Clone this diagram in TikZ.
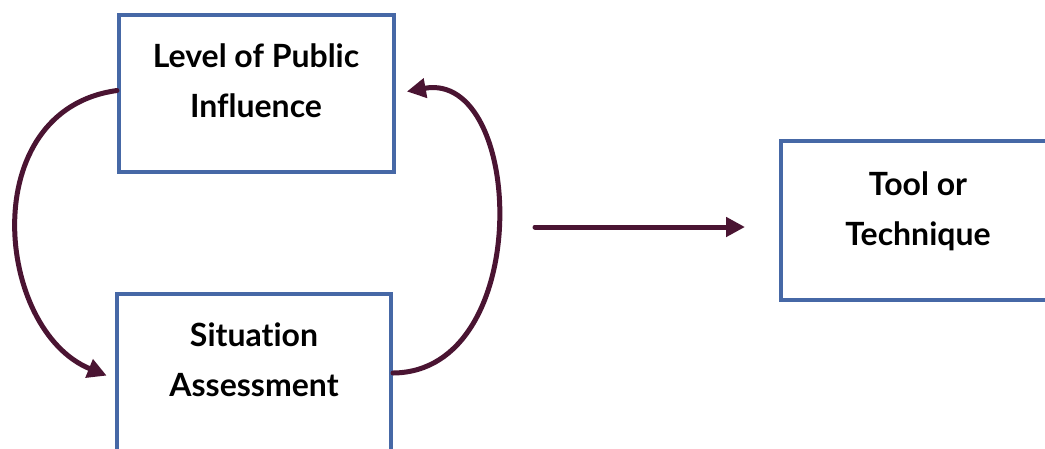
\documentclass[tikz,border=0pt]{standalone}
\usepackage{fontspec}
\setmainfont{Lato}[Ligatures=NoCommon]
\usetikzlibrary{arrows.meta}
\definecolor{boxblue}{RGB}{70,104,166}
\definecolor{arrowc}{RGB}{74,20,50}
\tikzset{
  box/.style={draw=boxblue, line width=4pt, fill=white, rectangle, inner sep=0pt},
  lbl/.style={align=center, font=\fontsize{32}{50}\selectfont\bfseries, text=black, inner sep=0pt},
  conn/.style={draw=arrowc, line width=5pt, line cap=round, -{Triangle[length=19pt,width=19pt]}}
}
\begin{document}
\begin{tikzpicture}[x=1pt,y=-1pt]
\useasboundingbox (0,0) rectangle (1045,448);
\fill[white] (0,0) rectangle (1045,448);
\node[box, minimum width=275pt, minimum height=157pt] (top) at (256.5,93.5) {};
\node[box, minimum width=274pt, minimum height=170pt] (bot) at (254,379) {};
\node[box, minimum width=280pt, minimum height=159pt] (tool) at (921,220.5) {};
\node[lbl, anchor=base] (ttop) at (256,117) {Level of Public\\Influence};
\node[lbl, anchor=base] (tbot) at (254,396) {Situat\kern0pt ion\\Assessment};
\node[lbl, anchor=base] (ttool) at (918,245) {Tool or\\Technique};
\coordinate (hs) at (535,227);
\coordinate (he) at (745,227);
\draw[conn, shorten >=9pt] ([yshift=3pt]top.west) .. controls (-25,110) and (-5,330) .. (bot.west);
\draw[conn, shorten >=11pt] ([yshift=6pt]bot.east) .. controls (535,372) and (525,70) .. (top.east);
\draw[conn] (hs) -- (he);
\end{tikzpicture}
\end{document}
